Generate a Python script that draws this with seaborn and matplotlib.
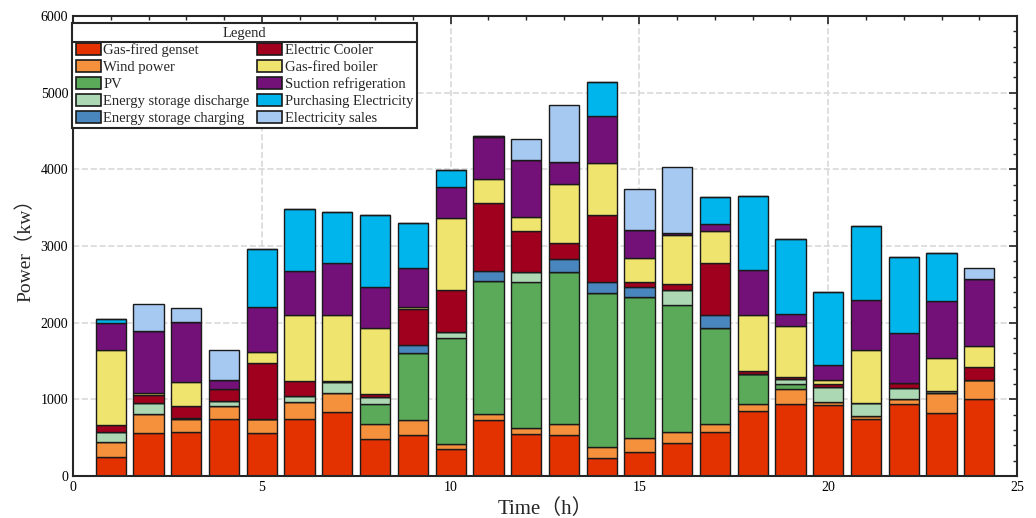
import matplotlib
matplotlib.use('Agg')
import numpy as np
import pandas as pd
import matplotlib.pyplot as plt
import seaborn as sns
from matplotlib.patches import Patch
from matplotlib.lines import Line2D

hours = list(range(1, 25))

genset    = [250, 555, 570, 750, 555, 745, 830, 480, 535, 350, 730, 545, 535, 240, 315, 425, 570, 850, 940, 925, 740, 945, 825, 1010]
wind      = [200, 260, 170, 160, 195, 215, 250, 195, 195,  70,  85,  80, 150, 145, 175, 150, 105,  95, 190,  45,  45,  55, 255, 240]
pv        = [  0,   0,   0,   0,   0,   0,   0, 270, 880,1380,1725,1900,1980,2000,1850,1660,1260, 390,  65,   0,   0,   0,   0,   0]
discharge = [130, 140,  20,  70,   0,  90, 150,  80,   0,  80,   0, 130,   0,   0,   0, 190,   0,   0,  65, 185, 165, 150,  35,   0]
charging  = [  0,   0,   0,   0,   0,   0,   0,   0, 100,   0, 135,   0, 170, 145, 130,   0, 160,   0,   0,   0,   0,   0,   0,   0]
cooler    = [ 85, 108, 155, 150, 730, 190,  10,  50, 470, 550, 885, 545, 210, 880,  55,  85, 690,  30,  35,  40,   0,  60,   0, 175]
boiler    = [980,  20, 310,   0, 135, 860, 855, 850,  20, 935, 310, 175, 760, 675, 315, 640, 405, 740, 665,  55, 695,  10, 430, 275]
suction   = [357, 810, 780, 120, 590, 575, 680, 535, 520, 405, 550, 750, 295, 605, 370,  25, 100, 580, 150, 195, 655, 640, 740, 865]
purchase  = [ 43,   0,   0,   0, 760, 805, 675, 945, 585, 225,  10,   0,   0, 445,   0,   0, 350, 965, 980, 950, 965,1000, 620,   0]
sales     = [  0, 345, 190, 400,   0,   0,   0,   0,   0,   0,   0, 270, 740,   0, 535, 860,   0,   0,   0,   0,   0,   0,   0, 145]

names = ['Gas-fired genset', 'Wind power', 'PV', 'Energy storage discharge',
         'Energy storage charging', 'Electric Cooler', 'Gas-fired boiler',
         'Suction refrigeration', 'Purchasing Electricity', 'Electricity sales']
series = [genset, wind, pv, discharge, charging, cooler, boiler, suction, purchase, sales]
colors = ['#E33200', '#F5913C', '#5AAA5A', '#ADD8B4', '#4A86BE',
          '#A0001E', '#EFE46E', '#741178', '#00B4EC', '#A5C9F0']

rows = []
for name, vals in zip(names, series):
    for h, v in zip(hours, vals):
        rows.append({'hour': h, 'value': v, 'component': name})
df = pd.DataFrame(rows)

sns.set_theme(style='white')
serif = ['Liberation Serif', 'Noto Sans CJK SC', 'DejaVu Serif']
plt.rcParams['font.family'] = serif

fig, ax = plt.subplots(figsize=(10.36, 5.18), dpi=100)
fig.subplots_adjust(left=0.0705, right=0.9817, bottom=0.081, top=0.969)

# seaborn stacks the last hue level at the bottom, so reverse the order
sns.histplot(data=df, x='hour', weights='value', hue='component',
             hue_order=names[::-1], palette=dict(zip(names, colors)),
             multiple='stack', discrete=True, shrink=0.8,
             edgecolor='#1a1a1a', linewidth=1.0, alpha=1, legend=False, ax=ax)

ax.set_xlim(0, 25)
ax.set_ylim(0, 6000)
ax.set_xticks([0, 5, 10, 15, 20, 25])
ax.set_yticks([0, 1000, 2000, 3000, 4000, 5000, 6000])
ax.xaxis.set_minor_locator(plt.MultipleLocator(1))
ax.yaxis.set_minor_locator(plt.MultipleLocator(200))
ax.tick_params(which='both', direction='in', top=True, right=True, colors='#262626',
               labelcolor='black', labelsize=10)
ax.tick_params(which='major', length=6, width=1.2)
ax.tick_params(which='minor', length=3, width=1.0)
ax.grid(True, which='major', linestyle='--', color='#d9d9d9', linewidth=1.2)
ax.set_axisbelow(True)
for s in ax.spines.values():
    s.set_color('#262626')
    s.set_linewidth(1.5)

ax.set_xlabel('Time（h）', fontsize=15, family=serif)
ax.set_ylabel('Power（kw）', fontsize=14, family=serif)

handles = [Patch(facecolor=c, edgecolor='#1a1a1a', linewidth=1.2) for c in colors]
leg = ax.legend(handles, names, ncol=2, title='Legend', loc='upper left',
                bbox_to_anchor=(-0.001, 0.985), fontsize=10.5, title_fontsize=10.5,
                frameon=True, fancybox=False, edgecolor='#262626',
                handlelength=1.7, handleheight=0.9, handletextpad=0.2,
                columnspacing=0.5, labelspacing=0.2, borderpad=0.25,
                borderaxespad=0.0)
leg.get_frame().set_linewidth(1.5)
leg.get_frame().set_alpha(1)

# separator line under the legend title
fig.canvas.draw()
lb = leg.get_window_extent()
tb = leg.get_title().get_window_extent()
inv = fig.transFigure.inverted()
x0, y0 = inv.transform((lb.x0, tb.y0 - 2))
x1, _ = inv.transform((lb.x1, tb.y0 - 2))
fig.add_artist(Line2D([x0, x1], [y0, y0], color='#262626', linewidth=1.5,
                      transform=fig.transFigure, zorder=10))

fig.savefig('out.png', dpi=100)
